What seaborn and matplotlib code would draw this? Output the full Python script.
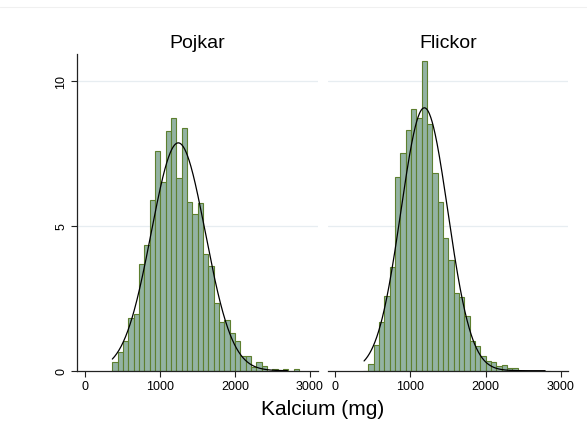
import numpy as np
import pandas as pd
import seaborn as sns
import matplotlib.pyplot as plt
from matplotlib.lines import Line2D

sns.set_theme(style="white")
plt.rcParams['font.family'] = ['Liberation Sans', 'DejaVu Sans']
plt.rcParams['text.color'] = 'black'
plt.rcParams['xtick.color'] = 'black'
plt.rcParams['ytick.color'] = 'black'

# Shared histogram bins (mg)
bin_start = 370.0
bin_width = 70.9

# Percent of each sex's observations per bin
pojkar_pct = [0.29, 0.63, 1.01, 1.81, 1.96, 3.68, 4.33, 5.90, 7.56, 6.50,
              8.28, 8.70, 6.63, 8.36, 5.83, 5.40, 5.77, 4.02, 3.62, 2.32,
              1.67, 1.75, 1.30, 1.03, 0.52, 0.52, 0.12, 0.29, 0.15, 0.0,
              0.07, 0.0, 0.07, 0.0, 0.07]
pojkar_first_bin = 0
flickor_pct = [0.23, 0.89, 1.67, 2.59, 3.59, 6.67, 7.51, 8.30, 9.02, 8.72,
               10.67, 8.51, 6.81, 5.81, 4.57, 3.82, 2.67, 2.53, 1.88, 1.01,
               0.86, 0.50, 0.34, 0.29, 0.17, 0.19, 0.10, 0.10]
flickor_first_bin = 1

# Fitted normal curves: mean, sd, drawn range
pojkar_mean, pojkar_sd, pojkar_range = 1246, 360, (368, 2700)
flickor_mean, flickor_sd, flickor_range = 1186, 312, (385, 2790)

panel_titles = ["Pojkar", "Flickor"]
x_ticks = [0, 1000, 2000, 3000]
y_ticks = [0, 5, 10]
x_label = "Kalcium (mg)"

fill_color = "#93b3a3"
edge_color = "#5d7f2f"
axis_color = "#222222"
grid_color = "#e7edf1"


def hist_frame(pct, first_bin):
    idx = np.arange(first_bin, first_bin + len(pct))
    mid = bin_start + (idx + 0.5) * bin_width
    df = pd.DataFrame({"mid": mid, "pct": pct})
    return df[df["pct"] > 0]


def normal_frame(mean, sd, rng):
    x = np.linspace(rng[0], rng[1], 400)
    y = 100 * bin_width * np.exp(-0.5 * ((x - mean) / sd) ** 2) / (sd * np.sqrt(2 * np.pi))
    return pd.DataFrame({"x": x, "y": y})


n_bins = 35
edges = [float(e) for e in bin_start + np.arange(n_bins + 1) * bin_width]

fig = plt.figure(figsize=(5.87, 4.35), dpi=100)
ax_l = fig.add_axes([0.1315, 0.1455, 0.4094, 0.728])
ax_r = fig.add_axes([0.5580, 0.1455, 0.4104, 0.728])

panels = [
    (ax_l, hist_frame(pojkar_pct, pojkar_first_bin),
     normal_frame(pojkar_mean, pojkar_sd, pojkar_range), panel_titles[0]),
    (ax_r, hist_frame(flickor_pct, flickor_first_bin),
     normal_frame(flickor_mean, flickor_sd, flickor_range), panel_titles[1]),
]

for ax, hdf, ndf, title in panels:
    for g in y_ticks[1:]:
        ax.axhline(g, color=grid_color, lw=0.9, zorder=0)
    sns.histplot(data=hdf, x="mid", weights="pct", bins=edges, ax=ax,
                 color=fill_color, edgecolor=edge_color, linewidth=0.8,
                 alpha=1, zorder=2)
    sns.lineplot(data=ndf, x="x", y="y", ax=ax, color="black", lw=0.9,
                 zorder=3)
    ax.set_xlim(-100, 3100)
    ax.set_ylim(0, 10.92)
    ax.set_xlabel("")
    ax.set_ylabel("")
    ax.set_xticks(x_ticks)
    ax.set_xticklabels([str(t) for t in x_ticks])
    ax.tick_params(axis="x", bottom=True, direction="out", length=4,
                   width=0.8, color=axis_color, labelsize=9, pad=3,
                   labelcolor="black")
    for s in ["top", "right"]:
        ax.spines[s].set_visible(False)
    ax.spines["bottom"].set_color(axis_color)
    ax.spines["bottom"].set_linewidth(0.9)
    ax.set_facecolor("white")
    ax.text(0.5, 1.0 + 7.3 / 316.7, title, transform=ax.transAxes,
            ha="center", va="baseline", fontsize=14, color="black")

ax_l.set_yticks(y_ticks)
ax_l.set_yticklabels([str(t) for t in y_ticks], rotation=90, va="center")
ax_l.tick_params(axis="y", left=True, direction="out", length=4, width=0.8,
                 color=axis_color, labelsize=9, pad=3, labelcolor="black")
ax_l.spines["left"].set_color(axis_color)
ax_l.spines["left"].set_linewidth(0.9)

ax_r.set_yticks([])
ax_r.spines["left"].set_visible(False)

fig.text(0.549, 1 - 410 / 435, x_label, ha="center", va="center",
         fontsize=15, color="black")
fig.add_artist(Line2D([0, 1], [1 - 8 / 435, 1 - 8 / 435],
                      color="#f0f0f0", lw=0.8, transform=fig.transFigure))

fig.savefig("out.png", dpi=100, facecolor="white")
